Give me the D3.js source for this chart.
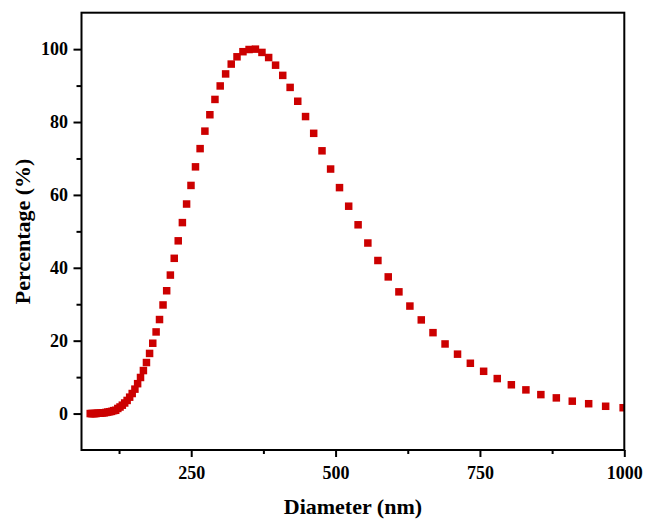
<!DOCTYPE html>
<html>
<head>
<meta charset="utf-8">
<script src="https://cdn.jsdelivr.net/npm/d3@7"></script>
<style>
  html, body { margin: 0; padding: 0; background: #fff; }
  svg { display: block; }
  text { font-family: "Times New Roman", "Liberation Serif", serif; font-weight: bold; fill: #000; }
</style>
</head>
<body>
<svg id="chart" width="647" height="524"></svg>
<script>
// Diameter (nm) of each measured point
const diameter = [
  75.1, 77.5, 79.9, 82.4, 85.0, 87.6, 90.4, 93.2, 96.1, 99.1,
  102.2, 105.4, 108.7, 112.1, 115.6, 119.2, 122.9, 126.7, 130.7, 134.8,
  139.0, 143.4, 147.8, 152.5, 157.2, 162.2, 167.2, 172.5, 177.9, 183.4,
  189.2, 195.1, 201.2, 207.5, 213.9, 220.6, 227.5, 234.7, 242.0, 249.6,
  257.4, 265.4, 273.7, 282.3, 291.1, 300.2, 309.6, 319.3, 329.3, 339.6,
  350.2, 361.2, 372.5, 384.1, 396.1, 408.5, 421.3, 434.5, 448.0, 462.1,
  476.5, 491.4, 506.8, 522.7, 539.0, 555.9, 573.3, 591.2, 609.7, 628.7,
  648.4, 668.7, 689.6, 711.2, 733.4, 756.4, 780.0, 804.4, 829.6, 855.5,
  882.3, 909.9, 938.3, 967.7, 998.0
];
// Percentage (%) for each point
const percentage = [
  0.0, 0.0, 0.0, 0.0, 0.0, 0.1, 0.1, 0.1, 0.2, 0.2,
  0.3, 0.4, 0.5, 0.6, 0.8, 0.9, 1.4, 1.8, 2.3, 2.9,
  3.6, 4.5, 5.5, 6.7, 8.2, 9.9, 11.8, 14.0, 16.5, 19.3,
  22.4, 25.8, 29.8, 33.7, 38.0, 42.6, 47.4, 52.4, 57.5, 62.6,
  67.7, 72.7, 77.5, 82.0, 86.2, 89.9, 93.2, 95.9, 97.9, 99.3,
  99.9, 100.0, 99.1, 97.7, 95.6, 92.8, 89.5, 85.7, 81.5, 76.9,
  72.1, 67.1, 62.0, 56.9, 51.8, 46.8, 42.0, 37.5, 33.4, 29.5,
  25.7, 22.2, 19.1, 16.3, 13.8, 11.6, 9.6, 7.9, 6.5, 5.2,
  4.3, 3.4, 2.7, 2.0, 1.6
];
const xTicks = [250, 500, 750, 1000];
const xMinorTicks = [125, 375, 625, 875];
const yTicks = [0, 20, 40, 60, 80, 100];
const yMinorTicks = [10, 30, 50, 70, 90];
const xDomain = [60, 1000];
const yDomain = [-10, 110];
const xTitle = "Diameter (nm)";
const yTitle = "Percentage (%)";

const svg = d3.select("#chart");
const L = 81.5, R = 624.3, T = 12.7, B = 450;
const x = d3.scaleLinear().domain(xDomain).range([L, R]);
const y = d3.scaleLinear().domain(yDomain).range([B, T]);

svg.append("defs").append("clipPath").attr("id", "clip")
  .append("rect").attr("x", L).attr("y", T).attr("width", R - L).attr("height", B - T);

// data points
const pts = diameter.map((d, i) => ({ d, p: percentage[i] }));
const s = 7.5;
svg.append("g").attr("clip-path", "url(#clip)")
  .selectAll("rect").data(pts).join("rect")
  .attr("x", d => x(d.d) - s / 2)
  .attr("y", d => y(d.p) - s / 2)
  .attr("width", s).attr("height", s)
  .attr("fill", "#cc0000");

// axes
const fs = 18;
const fmt = d3.format("d");
const xAxis = svg.append("g").attr("transform", `translate(0,${B})`)
  .call(d3.axisBottom(x).tickValues(xTicks).tickFormat(fmt).tickSize(7).tickPadding(9.5).tickSizeOuter(0));
const xMinor = svg.append("g").attr("transform", `translate(0,${B})`)
  .call(d3.axisBottom(x).tickValues(xMinorTicks).tickSize(4).tickFormat("").tickSizeOuter(0));
const yAxis = svg.append("g").attr("transform", `translate(${L},0)`)
  .call(d3.axisLeft(y).tickValues(yTicks).tickFormat(fmt).tickSize(8).tickPadding(5.5).tickSizeOuter(0));
const yMinor = svg.append("g").attr("transform", `translate(${L},0)`)
  .call(d3.axisLeft(y).tickValues(yMinorTicks).tickSize(5).tickFormat("").tickSizeOuter(0));

[xAxis, xMinor, yAxis, yMinor].forEach(g => {
  g.select(".domain").remove();
  g.selectAll(".tick line").attr("stroke", "#000").attr("stroke-width", 2);
  g.selectAll(".tick text")
    .style("font-family", '"Times New Roman", "Liberation Serif", serif')
    .style("font-weight", "bold").style("font-size", fs + "px").attr("fill", "#000");
});

// frame
svg.append("rect").attr("x", L).attr("y", T).attr("width", R - L).attr("height", B - T)
  .attr("fill", "none").attr("stroke", "#000").attr("stroke-width", 2);

// titles
svg.append("text").attr("x", (L + R) / 2).attr("y", 514)
  .attr("text-anchor", "middle").style("font-size", "22px").text(xTitle);
svg.append("text").attr("transform", `translate(30,${(T + B) / 2}) rotate(-90)`)
  .attr("text-anchor", "middle").style("font-size", "22px").text(yTitle);
</script>
</body>
</html>
